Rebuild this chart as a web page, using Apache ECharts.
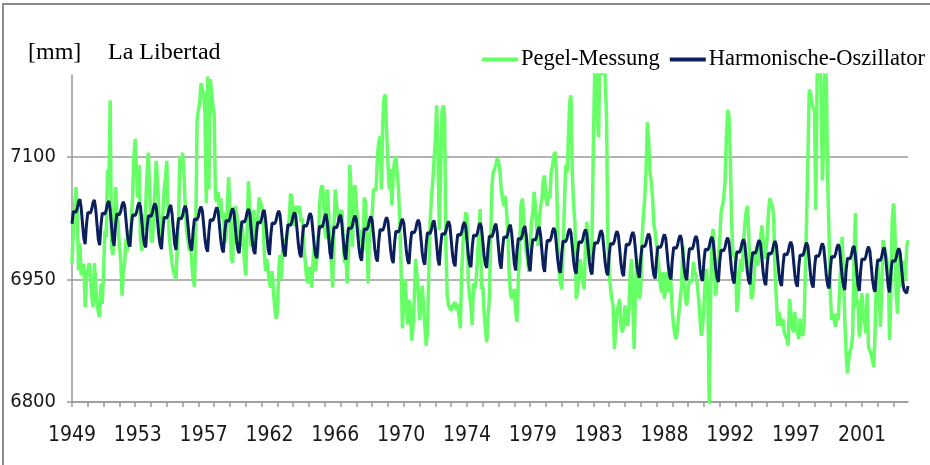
<!DOCTYPE html>
<html>
<head>
<meta charset="utf-8">
<script src="https://cdn.jsdelivr.net/npm/echarts@6/dist/echarts.min.js"></script>
<style>
html,body{margin:0;padding:0;background:#fff;}
#chart{width:930px;height:465px;}
</style>
</head>
<body>
<div id="chart"></div>
<script>
// Axis tick labels (one label every 50 points)
const yearLabels = ['1949','1953','1957','1962','1966','1970','1974','1979','1983','1988','1992','1997','2001'];
const yTickValues = [6800, 6950, 7100];
const seriesNames = ['Pegel-Messung', 'Harmonische-Oszillator'];

const pegel = [
6969,7010,7040,7063,7035,6961,6994,6955,6965,6969,6916,6953,
6960,6970,6953,6930,6916,6970,6945,6920,6910,6904,6945,
6920,6961,7010,7002,7084,7060,7169,6990,6980,7010,7063,7035,
7020,6990,6975,6930,6960,6970,7000,6985,7010,6990,7020,
7050,7100,7122,7080,7050,7090,7000,6985,7030,7010,7040,7080,
7105,7060,7000,6995,7020,7060,7095,7070,7030,6995,7020,
7030,7060,7075,7095,7030,7000,6985,6970,6960,6955,6950,6990,
7030,7100,7085,7105,7080,7040,7010,7000,6985,6990,6970,6950,
6941,7002,7145,7157,7165,7190,7182,7178,7153,7043,7198,
7060,7195,7180,7163,7150,7049,7045,7057,7032,7049,7024,7032,
6995,7000,7040,7075,7030,6975,6970,7020,7040,7030,7020,
7000,6990,7020,7000,6970,6955,7010,7070,7040,6990,7010,7035,
6995,6995,7020,7050,7045,7040,7030,6985,6960,6975,6960,
6945,6940,6960,6935,6915,6902,6910,6960,6980,6950,6985,7000,
6990,7000,7010,7025,7055,7050,7030,7015,7040,7035,7030,
7040,7020,7025,6990,6975,6955,6945,6965,6960,6940,6970,6990,
6960,6975,6985,7040,7060,7065,7055,7010,7000,7060,7030,6990,
6970,6940,7015,7060,7040,7030,7020,7025,7035,7000,6970,
6985,6945,6980,7090,7060,6990,7060,7065,7040,7020,7000,7010,
7000,6985,7050,7045,7000,6945,7005,7010,7030,7060,7060,
7060,7100,7118,7125,7060,7140,7172,7176,7130,7090,7060,7085,
7040,7080,7095,7100,7102,7060,7020,6960,6890,6930,6950,
6915,6895,6925,6915,6875,6890,6925,6975,6955,6935,6900,6920,
6942,6918,6893,6869,6885,6959,7020,7049,7069,7069,7122,7163,
7100,7010,7080,7155,7163,7150,6990,6930,6918,6915,6912,
6918,6920,6922,6912,6920,6905,6890,6959,6995,7012,7032,7028,
6947,6930,6918,6894,6945,6938,6951,6975,7010,7036,6938,
6942,6910,6890,6873,6905,6926,7000,7065,7081,7081,7090,7098,
7094,7085,7060,7048,7040,7052,7035,7010,6959,6935,6926,
6926,6938,6910,6898,6950,6983,7040,7049,7032,7000,6983,6975,
6959,6991,7020,7032,7057,7040,7012,6991,7024,7040,7049,
7073,7077,7049,7040,7057,7049,7081,7089,7102,7106,7081,7000,
6960,6945,6938,6990,7040,7090,7080,7120,7167,7175,7080,7040,
7020,6926,6935,6950,6975,6975,6946,6938,6990,7020,7000,
6983,6975,7000,7114,7200,7240,7150,7124,7230,7260,7200,7240,
7240,7150,7000,6960,6940,6926,6918,6865,6885,6910,6918,
6926,6893,6885,6893,6918,6902,6893,6910,6959,6975,6918,6865,
6938,6975,6950,6926,6938,7000,7028,7049,7081,7142,7122,
7081,7069,7049,7016,7008,6991,6975,6959,6942,6934,6959,6926,
6950,6959,6934,6967,6942,6910,6893,6881,6877,6893,6910,6926,
6942,6991,6959,6926,6918,6938,6950,6946,6950,6971,6959,
6955,6942,6926,6902,6881,6893,6918,6950,6963,6926,6795,6918,
7000,7012,6967,6930,6950,6950,7000,7032,7040,7049,7069,
7122,7157,7150,7102,7020,6983,6979,6975,6910,6926,6959,6975,
6959,6991,7016,7032,7040,7008,6959,6926,6930,6950,6975,
6991,6967,6983,7000,7016,7000,6975,6983,7000,7032,7049,7044,
7040,7024,6959,6926,6893,6910,6902,6893,6902,6885,6881,6877,
6869,6926,6910,6893,6885,6910,6893,6885,6877,6902,6885,
6881,6894,6959,7023,7100,7182,7178,7165,7160,7157,7035,7198,
7230,7240,7180,7071,7116,7220,7194,7071,7006,6933,6900,
6908,6900,6892,6908,6900,6933,6973,7002,6953,6900,6859,6835,
6851,6863,6867,6884,6973,7031,6916,6925,6880,6892,6933,
6912,6900,6884,6933,6867,6863,6859,6851,6843,6884,6953,6973,
6941,6892,6933,6998,6990,6982,6973,6965,6876,6933,7023,
7043,7014,6933,6908,6965,6982,6941,6957,6973,6949,6990,6998
];

// Harmonische-Oszillator (model curve, mm)
const harmonic = [
7018,7033,7034,7032,7037,7045,7048,7037,7018,7000,
6993,7017,7032,7033,7031,7036,7044,7047,7036,7017,6999,
6992,7016,7031,7032,7030,7035,7043,7046,7035,7016,6998,
6991,7015,7030,7031,7029,7033,7041,7045,7040,7023,7005,6994,
6990,7014,7029,7030,7028,7032,7040,7044,7039,7022,7004,6993,
6989,7013,7028,7029,7027,7031,7039,7043,7038,7021,7003,6992,
6987,7011,7026,7027,7025,7030,7038,7041,7030,7011,6993,
6986,7010,7025,7026,7024,7028,7036,7040,7035,7018,7000,6989,
6985,7009,7024,7025,7023,7027,7035,7039,7034,7017,6999,6988,
6984,7008,7023,7024,7022,7026,7034,7038,7033,7016,6998,6987,
6983,7007,7022,7023,7021,7025,7033,7037,7032,7015,6997,6986,
6982,7006,7021,7022,7020,7024,7032,7036,7031,7014,6996,6985,
6981,7005,7020,7021,7019,7024,7032,7035,7024,7005,6987,
6980,7004,7019,7020,7018,7022,7030,7034,7029,7012,6994,6983,
6978,7002,7017,7018,7016,7020,7028,7032,7027,7010,6992,6981,
6977,7001,7016,7017,7015,7019,7027,7031,7026,7009,6991,6980,
6976,7000,7015,7016,7014,7019,7027,7030,7019,7000,6982,
6975,6999,7014,7015,7013,7018,7026,7029,7018,6999,6981,
6974,6998,7013,7014,7012,7016,7024,7028,7023,7006,6988,6977,
6973,6997,7012,7013,7011,7015,7023,7027,7022,7005,6987,6976,
6972,6996,7011,7012,7010,7014,7022,7026,7021,7004,6986,6975,
6970,6994,7009,7010,7008,7012,7020,7024,7019,7002,6984,6973,
6969,6993,7008,7009,7007,7011,7019,7023,7018,7001,6983,6972,
6968,6992,7007,7008,7006,7011,7019,7022,7011,6992,6974,
6967,6991,7006,7007,7005,7009,7017,7021,7016,6999,6981,6970,
6966,6990,7005,7006,7004,7008,7016,7020,7015,6998,6980,6969,
6965,6989,7004,7005,7003,7007,7015,7019,7014,6997,6979,6968,
6964,6988,7003,7004,7002,7007,7015,7018,7007,6988,6970,
6963,6987,7002,7003,7001,7006,7014,7017,7006,6987,6969,
6961,6985,7000,7001,6999,7004,7012,7015,7004,6985,6967,
6960,6984,6999,7000,6998,7003,7011,7014,7003,6984,6966,
6959,6983,6998,6999,6997,7001,7009,7013,7008,6991,6973,6962,
6958,6982,6997,6998,6996,7000,7008,7012,7007,6990,6972,6961,
6957,6981,6996,6997,6995,6999,7007,7011,7006,6989,6971,6960,
6956,6980,6995,6996,6994,6998,7006,7010,7005,6988,6970,6959,
6955,6979,6994,6995,6993,6997,7005,7009,7004,6987,6969,6958,
6954,6978,6993,6994,6992,6996,7004,7008,7003,6986,6968,6957,
6952,6976,6991,6992,6990,6994,7002,7006,7001,6984,6966,6955,
6951,6975,6990,6991,6989,6993,7001,7005,7000,6983,6965,6954,
6950,6974,6989,6990,6988,6992,7000,7004,6999,6982,6964,6953,
6949,6973,6988,6989,6987,6991,6999,7003,6998,6981,6963,6952,
6948,6972,6987,6988,6986,6990,6998,7002,6997,6980,6962,6951,
6947,6971,6986,6987,6985,6989,6997,7001,6996,6979,6961,6950,
6945,6969,6984,6985,6983,6987,6995,6999,6994,6977,6959,6948,
6944,6968,6983,6984,6982,6986,6994,6998,6993,6976,6958,6947,
6943,6967,6982,6983,6981,6985,6993,6997,6992,6975,6957,6946,
6942,6966,6981,6982,6980,6984,6992,6996,6991,6974,6956,6945,
6941,6965,6980,6981,6979,6983,6991,6995,6990,6973,6955,6944,
6940,6964,6979,6980,6978,6982,6990,6994,6989,6972,6954,6943,
6939,6963,6978,6979,6977,6981,6989,6993,6988,6971,6953,6942,
6937,6961,6976,6977,6975,6980,6988,6991,6980,6961,6943,
6936,6960,6975,6976,6974,6978,6986,6990,6985,6968,6950,6939,
6935,6959,6974,6975,6973,6978,6986,6989,6978,6959,6941,
6934,6958,6973,6974,6972,6976,6984,6988,6983,6966,6948,6937,
6936,6933,6942
];

// Category axis: one category per data point
const categories = pegel.map((_, i) => String(i));
const LABEL_STEP = 50;
const TICK_STEP = 12;

const chart = echarts.init(document.getElementById('chart'), null, {renderer: 'canvas'});
const narrow = '"Liberation Sans Narrow","DejaVu Sans Condensed","Liberation Sans",sans-serif';
const serif = '"Liberation Serif","DejaVu Serif",serif';

chart.setOption({
  animation: false,
  backgroundColor: '#ffffff',
  graphic: [{
    type: 'rect',
    shape: {x: 3, y: 4, width: 1000, height: 1000},
    style: {fill: 'none', stroke: '#8c8c8c', lineWidth: 2},
    silent: true
  }],
  title: [
    {text: '[mm]', left: 23, top: 36, textStyle: {fontFamily: serif, fontSize: 24, fontWeight: 'normal', color: '#000'}},
    {text: 'La Libertad', left: 103, top: 36, textStyle: {fontFamily: serif, fontSize: 24, fontWeight: 'normal', color: '#000'}}
  ],
  legend: {
    data: seriesNames,
    right: 0,
    top: 43,
    icon: 'rect',
    itemWidth: 36,
    itemHeight: 4,
    itemGap: 10,
    textStyle: {fontFamily: serif, fontSize: 22.5, color: '#000', padding: [0, 0, 0, -2]}
  },
  grid: {left: 72, right: 22, top: 75, bottom: 63, containLabel: false, outerBoundsMode: 'none'},
  xAxis: {
    type: 'category',
    data: categories,
    boundaryGap: false,
    axisLine: {lineStyle: {color: '#9a9a9a', width: 1.5}},
    axisTick: {
      length: 5,
      interval: (idx) => idx % TICK_STEP === 0,
      lineStyle: {color: '#9a9a9a', width: 1.5}
    },
    axisLabel: {
      interval: (idx) => idx % LABEL_STEP === 0,
      formatter: (val, idx) => (idx % LABEL_STEP === 0 ? (yearLabels[idx / LABEL_STEP] || '') : ''),
      margin: 23,
      fontFamily: narrow,
      fontSize: 21,
      color: '#1a1a1a'
    },
    splitLine: {show: false}
  },
  yAxis: {
    type: 'value',
    min: 6800,
    max: 7200,
    interval: 150,
    axisLine: {show: true, lineStyle: {color: '#9a9a9a', width: 1.5}},
    axisTick: {show: true, length: 5, lineStyle: {color: '#9a9a9a', width: 1.5}},
    axisLabel: {
      showMaxLabel: false,
      formatter: (v) => (yTickValues.indexOf(v) >= 0 ? String(v) : ''),
      margin: 16,
      fontFamily: narrow,
      fontSize: 20,
      color: '#1a1a1a'
    },
    splitLine: {show: true, lineStyle: {color: ['#9a9a9a', '#9a9a9a', '#9a9a9a', 'rgba(0,0,0,0)'], width: 1.5}}
  },
  series: [
    {
      name: seriesNames[0],
      type: 'line',
      data: pegel,
      showSymbol: false,
      symbol: 'none',
      clip: true,
      lineStyle: {color: '#66ff66', width: 3.5},
      itemStyle: {color: '#66ff66'}
    },
    {
      name: seriesNames[1],
      type: 'line',
      data: harmonic,
      showSymbol: false,
      symbol: 'none',
      clip: true,
      lineStyle: {color: '#0b1f5c', width: 3},
      itemStyle: {color: '#0b1f5c'}
    }
  ]
});
</script>
</body>
</html>
